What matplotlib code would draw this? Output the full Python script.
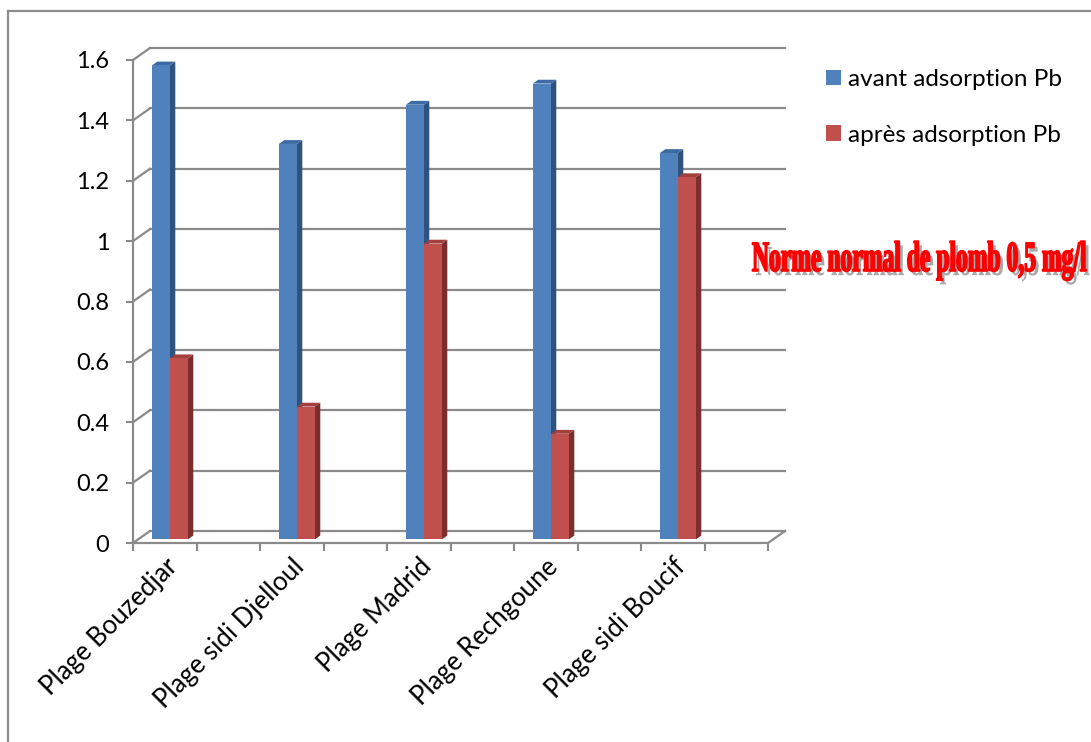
import matplotlib
matplotlib.use("Agg")
import matplotlib.pyplot as plt
from matplotlib.patches import Polygon, Patch
from matplotlib.lines import Line2D
from matplotlib.transforms import Affine2D
from matplotlib import patheffects as pe
from matplotlib import font_manager as fm

# ---- data -------------------------------------------------------------
categories = ["Plage Bouzedjar", "Plage sidi Djelloul", "Plage Madrid",
              "Plage Rechgoune", "Plage sidi Boucif"]
avant = [1.57, 1.31, 1.44, 1.51, 1.28]
apres = [0.60, 0.44, 0.98, 0.35, 1.20]
series_names = ["avant adsorption Pb", "après adsorption Pb"]
y_ticks = [0, 0.2, 0.4, 0.6, 0.8, 1.0, 1.2, 1.4, 1.6]
y_tick_labels = ["0", "0.2", "0.4", "0.6", "0.8", "1", "1.2", "1.4", "1.6"]
note = "Norme normal de plomb 0,5 mg/l"

# ---- style ------------------------------------------------------------
front = ["#4F81BD", "#C0504D"]
side = ["#30527F", "#7B2E2C"]
top = ["#3E6AA3", "#A3403D"]
grid_c = "#8A8A8A"
plt.rcParams["font.family"] = ["Lato", "DejaVu Sans"]
FS = 17


class Stretched(pe.AbstractPathEffect):
    """Wrap another path effect and stretch the glyph paths vertically
    about the baseline (gives a tall, condensed look)."""

    def __init__(self, inner, sy):
        super().__init__()
        self.inner = inner
        self.sy = sy

    def draw_path(self, renderer, gc, tpath, affine, rgbFace=None):
        self.inner.draw_path(renderer, gc, tpath,
                             Affine2D().scale(1.0, self.sy) + affine, rgbFace)


W, H = 1091, 742
fig = plt.figure(figsize=(W / 100, H / 100), dpi=100)

def fx(px):
    return px / W

def fy(py):
    return 1 - py / H

# front plane of the 3-D box
x0p, x1p, y0p, y1p = 133, 768, 543, 60
ax = fig.add_axes([fx(x0p), fy(y0p), fx(x1p) - fx(x0p), fy(y1p) - fy(y0p)])
n_slots = 2 * len(categories)
ax.set_xlim(0, n_slots)
ax.set_ylim(0, 1.6)
ax.set_facecolor("none")
px_x = (x1p - x0p) / n_slots
px_y = (y0p - y1p) / 1.6

# depth offset of the back wall (data units)
DX = 17 / px_x
DY = 12 / px_y

for s in ["top", "right"]:
    ax.spines[s].set_visible(False)
for s in ["left", "bottom"]:
    ax.spines[s].set_color(grid_c)
    ax.spines[s].set_linewidth(1.6)

# back-wall gridlines and their diagonal connectors
for t in y_ticks:
    ax.add_line(Line2D([DX, n_slots + DX], [t + DY, t + DY], color=grid_c,
                       lw=1.6, clip_on=False, zorder=1))
    ax.add_line(Line2D([0, DX], [t, t + DY], color=grid_c, lw=1.6,
                       clip_on=False, zorder=1))
ax.add_line(Line2D([n_slots, n_slots + DX], [0, DY], color=grid_c, lw=1.6,
                   clip_on=False, zorder=1))

# 3-D columns
w = 18 / px_x
f0, f1 = 0.30, 0.62
for i in range(len(categories)):
    c = 2 * i + 0.5
    for s, vals in enumerate([avant, apres]):
        v = vals[i]
        xa = c - w + s * w + f0 * DX
        xb = xa + w
        yb = f0 * DY
        yt = v + f0 * DY
        ddx, ddy = (f1 - f0) * DX, (f1 - f0) * DY
        ax.add_patch(Polygon([(xb, yb), (xb + ddx, yb + ddy), (xb + ddx, yt + ddy),
                              (xb, yt)], closed=True, fc=side[s], ec="none",
                             zorder=3, clip_on=False))
        ax.add_patch(Polygon([(xa, yt), (xb, yt), (xb + ddx, yt + ddy),
                              (xa + ddx, yt + ddy)], closed=True, fc=top[s],
                             ec="none", zorder=3, clip_on=False))
        ax.add_patch(Polygon([(xa, yb), (xb, yb), (xb, yt), (xa, yt)], closed=True,
                             fc=front[s], ec="none", zorder=4, clip_on=False))

# axes ticks
ax.set_yticks(y_ticks)
ax.set_yticklabels(y_tick_labels)
ax.tick_params(axis="y", length=5, width=1.5, color=grid_c, pad=12,
               labelsize=FS, labelcolor="black")
ax.set_xticks(range(n_slots + 1))
ax.set_xticklabels([])
ax.tick_params(axis="x", which="major", length=6, width=1.5, color=grid_c,
               direction="out")
ax.set_xticks([2 * i + 0.5 for i in range(len(categories))], minor=True)
ax.set_xticklabels(categories, minor=True, rotation=45, ha="right",
                   rotation_mode="anchor", fontsize=FS + 1.5)
ax.tick_params(axis="x", which="minor", length=0, pad=8)

# legend
handles = [Patch(fc=front[k], ec="none") for k in range(2)]
fig.legend(handles, series_names, loc="upper left",
           bbox_to_anchor=(fx(826), fy(69)), frameon=False, fontsize=FS + 0.5,
           handlelength=0.62, handleheight=0.62, handletextpad=0.3,
           labelspacing=1.42, borderpad=0, borderaxespad=0)

# threshold note: bold serif sized to its width, then stretched vertically
base_size = 31
nprops = fm.FontProperties(family="Liberation Serif", weight="bold",
                           size=base_size)
nt = fig.text(fx(752), fy(271), note, color="#FF0000", fontproperties=nprops,
              ha="left", va="baseline")
fig.canvas.draw()
natural_w = nt.get_window_extent().width
new_size = base_size * 334 / natural_w
nt.set_fontsize(new_size)
sy = base_size / new_size
nt.set_path_effects([
    Stretched(pe.SimplePatchShadow(offset=(2.5, -3), shadow_rgbFace="0.25",
                                   alpha=0.45), sy),
    Stretched(pe.Stroke(linewidth=1.2, foreground="#FF0000"), sy),
    Stretched(pe.Normal(), sy),
])

# outer frame
fig.add_artist(Line2D([fx(8), 1], [fy(11), fy(11)], color="#8C8C8C", lw=1.6,
                      transform=fig.transFigure))
fig.add_artist(Line2D([fx(8), fx(8)], [fy(11), 0], color="#8C8C8C", lw=1.6,
                      transform=fig.transFigure))

fig.savefig("out.png", dpi=100)
